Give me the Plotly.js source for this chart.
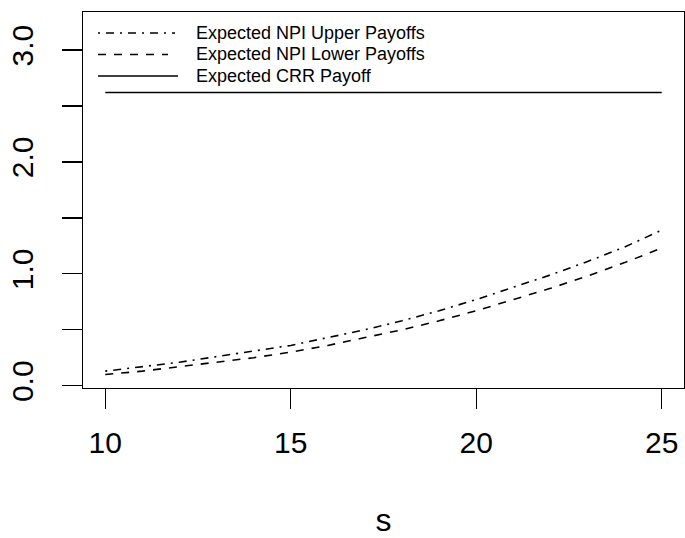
<!DOCTYPE html>
<html>
<head>
<meta charset="utf-8">
<script src="https://cdn.plot.ly/plotly-3.0.1.min.js"></script>
<style>html,body{margin:0;padding:0;background:#fff;}#chart{width:685px;height:538px;}</style>
</head>
<body>
<div id="chart"></div>
<script>
// ---- data ----
const s = [10, 11, 12, 13, 14, 15, 16, 17, 18, 19, 20, 21, 22, 23, 24, 25];
const npiUpper = [0.13, 0.17, 0.21, 0.26, 0.31, 0.36, 0.43, 0.50, 0.58, 0.67, 0.77, 0.88, 0.99, 1.11, 1.24, 1.39];
const npiLower = [0.10, 0.13, 0.17, 0.21, 0.25, 0.30, 0.36, 0.43, 0.50, 0.58, 0.67, 0.77, 0.87, 0.98, 1.10, 1.23];
const crr = [2.62, 2.62, 2.62, 2.62, 2.62, 2.62, 2.62, 2.62, 2.62, 2.62, 2.62, 2.62, 2.62, 2.62, 2.62, 2.62];
const seriesNames = ["Expected NPI Upper Payoffs", "Expected NPI Lower Payoffs", "Expected CRR Payoff"];
const xTickVals = [10, 15, 20, 25];
const xTickText = ["10", "15", "20", "25"];
const yTickVals = [0, 0.5, 1, 1.5, 2, 2.5, 3];
const yTickText = ["0.0", "", "1.0", "", "2.0", "", "3.0"];
const xTitle = "s";

// ---- styling ----
const FONT = "Liberation Sans, Arial, Helvetica, sans-serif";
const W = 685, H = 538;
const M = {l: 83, r: 1, t: 12, b: 150};
const dashDot = "2px,6px,8px,6px";
const dashed = "8px,8px";
const dashes = [dashDot, dashed, "solid"];
const LW = 1.6;

const series = [npiUpper, npiLower, crr];
const traces = series.map((ys, i) => ({
  type: "scatter", mode: "lines", x: s, y: ys, name: seriesNames[i],
  line: {color: "#000", width: LW, dash: dashes[i]}, showlegend: false,
  hoverinfo: "x+y"
}));

// manual legend (R-style, long line samples, no box)
const plotW = W - M.l - M.r, plotH = H - M.t - M.b;
const px = v => (v - M.l) / plotW;
const py = v => (H - M.b - v) / plotH;
const rows = [33, 54.5, 76];
const sampleEnd = [175, 168, 178];
const shapes = rows.map((r, i) => ({
  type: "line", xref: "paper", yref: "paper",
  x0: px(98), x1: px(sampleEnd[i]), y0: py(r), y1: py(r),
  line: {color: "#000", width: LW, dash: dashes[i]}
}));
const annotations = rows.map((r, i) => ({
  xref: "paper", yref: "paper", x: px(194), y: py(r),
  xanchor: "left", yanchor: "middle", showarrow: false,
  text: seriesNames[i], font: {family: FONT, size: 18, color: "#000"}
}));

const layout = {
  width: W, height: H, margin: M,
  paper_bgcolor: "#fff", plot_bgcolor: "#fff",
  font: {family: FONT, color: "#000"},
  showlegend: false,
  xaxis: {
    range: [9.4, 25.6], tickmode: "array", tickvals: xTickVals, ticktext: xTickText,
    ticks: "outside", ticklen: 20, tickwidth: 1.3, tickcolor: "#000",
    showline: true, linewidth: 1.3, linecolor: "#000", mirror: true,
    showgrid: false, zeroline: false, tickfont: {size: 30, family: FONT},
    ticklabelstandoff: 8,
    title: {text: xTitle, font: {size: 32, family: FONT}, standoff: 74},
    automargin: false
  },
  yaxis: {
    range: [-0.0206, 3.34], tickmode: "array", tickvals: yTickVals, ticktext: yTickText,
    tickangle: -90,
    ticks: "outside", ticklen: 20, tickwidth: 1.3, tickcolor: "#000",
    showline: true, linewidth: 1.3, linecolor: "#000", mirror: true,
    showgrid: false, zeroline: false, tickfont: {size: 30, family: FONT},
    ticklabelstandoff: 17,
    automargin: false
  },
  shapes: shapes,
  annotations: annotations
};

Plotly.newPlot("chart", traces, layout, {displayModeBar: false, staticPlot: true});
</script>
</body>
</html>
